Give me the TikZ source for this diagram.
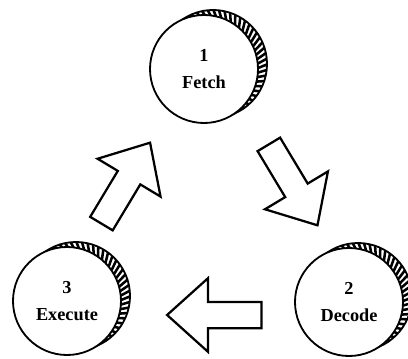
\documentclass[tikz,border=0pt]{standalone}
\usepackage{fontspec}
\setmainfont{Liberation Serif}
\usetikzlibrary{positioning,shapes.arrows,backgrounds,calc}

\tikzstyle{l2}=[line width=1.3pt]
\tikzstyle{stage}=[circle, draw=black, l2, fill=white, minimum size=2.7cm, inner sep=0pt, align=center, font=\bfseries\fontsize{13}{19}\selectfont]
\tikzstyle{flow}=[single arrow, draw=black, line width=1.6pt, fill=white, minimum height=2.36cm, minimum width=1.78cm, single arrow head extend=.59cm, single arrow tip angle=84, inner xsep=0pt, inner ysep=.3cm]
\tikzstyle{rim}=[line width=1.8pt, line cap=butt]

\begin{document}
\begin{tikzpicture}[node distance=1cm, on grid]
    \useasboundingbox (-5.1,-7.225) rectangle (5.1,1.725);

    \node[stage] (fetch) at (0,0) {1\\Fetch};
    \node[stage] (execute) [below left = 5.8cm and 3.425cm of fetch] {3\\Execute};
    \node[stage] (decode) [below right = 5.825cm and 3.625cm of fetch] {2\\Decode};

    % hatched rims behind the stages
    \begin{scope}[on background layer]
        \foreach \s in {fetch,decode,execute}{
            \begin{scope}[shift={($(\s)+(.225,.125)$)}]
                \begin{scope}
                    \clip (0,0) circle[radius=1.35cm];
                    \foreach \a in {0,6,...,354}
                        \draw[rim] (\a:1.1cm) -- (\a+8:1.5cm);
                \end{scope}
                \draw[l2] (0,0) circle[radius=1.35cm];
            \end{scope}
        }
    \end{scope}

    \node[flow, rotate=59] (up) [below left = 3.01cm and 2.05cm of fetch] {};
    \node[flow, rotate=-59] (down) [below right = 2.74cm and 2.135cm of fetch] {};
    \node[flow, rotate=180] (back) [below right = 6.15cm and .44cm of fetch] {};

\end{tikzpicture}
\end{document}
